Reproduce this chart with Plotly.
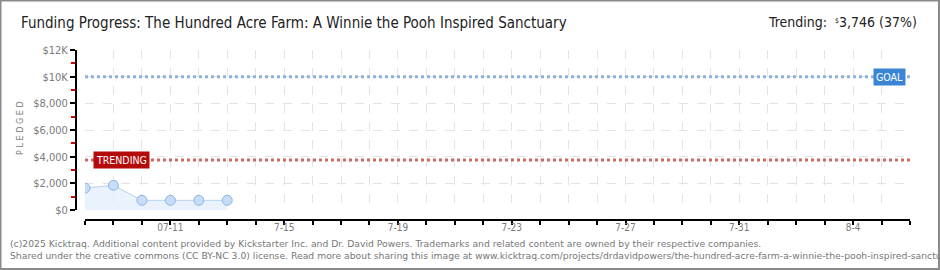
import plotly.graph_objects as go

# ---- data ----
dates = ["2025-07-08", "2025-07-09", "2025-07-10", "2025-07-11", "2025-07-12", "2025-07-13"]
pledged = [1650, 1850, 725, 725, 725, 725]
goal = 10000
trending = 3746
trend_pct = 37
title = "Funding Progress: The Hundred Acre Farm: A Winnie the Pooh Inspired Sanctuary"
x_range = ["2025-07-08", "2025-08-06"]
tick_days = ["2025-07-%02d" % d for d in range(8, 32)] + ["2025-08-%02d" % d for d in range(1, 7)]
tick_label_map = {"2025-07-11": "07-11", "2025-07-15": "7-15", "2025-07-19": "7-19",
                  "2025-07-23": "7-23", "2025-07-27": "7-27", "2025-07-31": "7-31",
                  "2025-08-04": "8-4"}
y_ticks = [0, 2000, 4000, 6000, 8000, 10000, 12000]
y_labels = ["$0", "$2,000", "$4,000", "$6,000", "$8,000", "$10K", "$12K"]
footer1 = "(c)2025 Kicktraq. Additional content provided by Kickstarter Inc. and Dr. David Powers. Trademarks and related content are owned by their respective companies."
footer2 = "Shared under the creative commons (CC BY-NC 3.0) license. Read more about sharing this image at www.kicktraq.com/projects/drdavidpowers/the-hundred-acre-farm-a-winnie-the-pooh-inspired-sanctuary/"

W, H = 940, 270
ML, MR, MT, MB = 76, 30, 50, 50
PW, PH = W - ML - MR, H - MT - MB

def px(x):
    return (x - ML) / PW

def py(y):
    return (H - MB - y) / PH

FONT = "DejaVu Sans Condensed"
GREY = "#7a7a7a"

fig = go.Figure()
fig.add_trace(go.Scatter(
    x=dates, y=pledged, mode="lines+markers",
    line=dict(color="#b9d3f0", width=1),
    fill="tozeroy", fillcolor="rgba(225,238,252,0.75)",
    marker=dict(size=10, color="#c7ddf7", line=dict(color="#8db4e4", width=1)),
    hoverinfo="skip", showlegend=False,
))

# goal & trending lines
fig.add_shape(type="line", xref="x domain", yref="y", x0=0, x1=1, y0=goal, y1=goal,
              line=dict(color="#8fb0da", width=3, dash="dot"), layer="above")
fig.add_shape(type="line", xref="x domain", yref="y", x0=0, x1=1, y0=trending, y1=trending,
              line=dict(color="#cc6a6a", width=3, dash="dot"), layer="above")

fig.add_annotation(xref="paper", yref="y", x=px(93), y=trending, xanchor="left", yanchor="middle",
                   text="TRENDING", showarrow=False, bgcolor="#b50a0a", borderpad=2,
                   font=dict(family=FONT, size=10.5, color="white"))
fig.add_annotation(xref="paper", yref="y", x=px(906), y=goal, xanchor="right", yanchor="middle",
                   text="GOAL", showarrow=False, bgcolor="#3b86d4", borderpad=2,
                   font=dict(family=FONT, size=10.5, color="white"))

# title texts
fig.add_annotation(xref="paper", yref="paper", x=px(19), y=py(23), xanchor="left", yanchor="middle",
                   text=title, showarrow=False, font=dict(family=FONT, size=15, color="#222"))
fig.add_annotation(xref="paper", yref="paper", x=px(919), y=py(22), xanchor="right", yanchor="middle",
                   text="Trending:  <span style='font-size:10px'><sup>$</sup></span>%s (%d%%)" % (f"{trending:,}", trend_pct),
                   showarrow=False, font=dict(family=FONT, size=14, color="#222"))
fig.add_annotation(xref="paper", yref="paper", x=px(20), y=py(128), xanchor="center", yanchor="middle",
                   text="P L E D G E D", textangle=-90, showarrow=False,
                   font=dict(family=FONT, size=9, color=GREY))
fig.add_annotation(xref="paper", yref="paper", x=px(8), y=py(243), xanchor="left", yanchor="middle",
                   text=footer1, showarrow=False, font=dict(family="DejaVu Sans", size=9.25, color="#777"))
fig.add_annotation(xref="paper", yref="paper", x=px(8), y=py(256), xanchor="left", yanchor="middle",
                   text=footer2, showarrow=False, font=dict(family="DejaVu Sans", size=9.25, color="#777"))

# border
fig.add_shape(type="rect", xref="paper", yref="paper", x0=px(0.5), x1=px(W - 1), y0=py(0.5), y1=py(H - 1),
              line=dict(color="#8a8a8a", width=2), layer="above")

fig.update_layout(
    width=W, height=H, margin=dict(l=ML, r=MR, t=MT, b=MB),
    paper_bgcolor="white", plot_bgcolor="white",
    xaxis=dict(
        type="date", range=x_range, domain=[9 / PW, 1], anchor="free", position=0,
        tickvals=tick_days, ticktext=[tick_label_map.get(d, "") for d in tick_days],
        ticks="outside", ticklen=4, tickcolor="black", tickwidth=1.5,
        ticklabelstandoff=-6,
        showline=True, linecolor="black", linewidth=2,
        showgrid=True, gridcolor="#e3e3e3", griddash="dash", gridwidth=1,
        tickfont=dict(family=FONT, size=10, color=GREY), zeroline=False,
    ),
    yaxis=dict(
        range=[0, 12000], domain=[10 / PH, 1], anchor="free", position=0,
        tickvals=y_ticks, ticktext=y_labels,
        ticks="outside", ticklen=5, tickcolor="black", tickwidth=1.5,
        showline=True, linecolor="black", linewidth=2,
        showgrid=True, gridcolor="#e3e3e3", griddash="dash", gridwidth=1,
        tickfont=dict(family=FONT, size=11, color=GREY), zeroline=False,
        minor=dict(dtick=1000, tick0=1000, ticks="outside", ticklen=4, tickcolor="#e00000",
                   tickwidth=1.5, showgrid=False),
    ),
)

fig.write_html("out.html")
